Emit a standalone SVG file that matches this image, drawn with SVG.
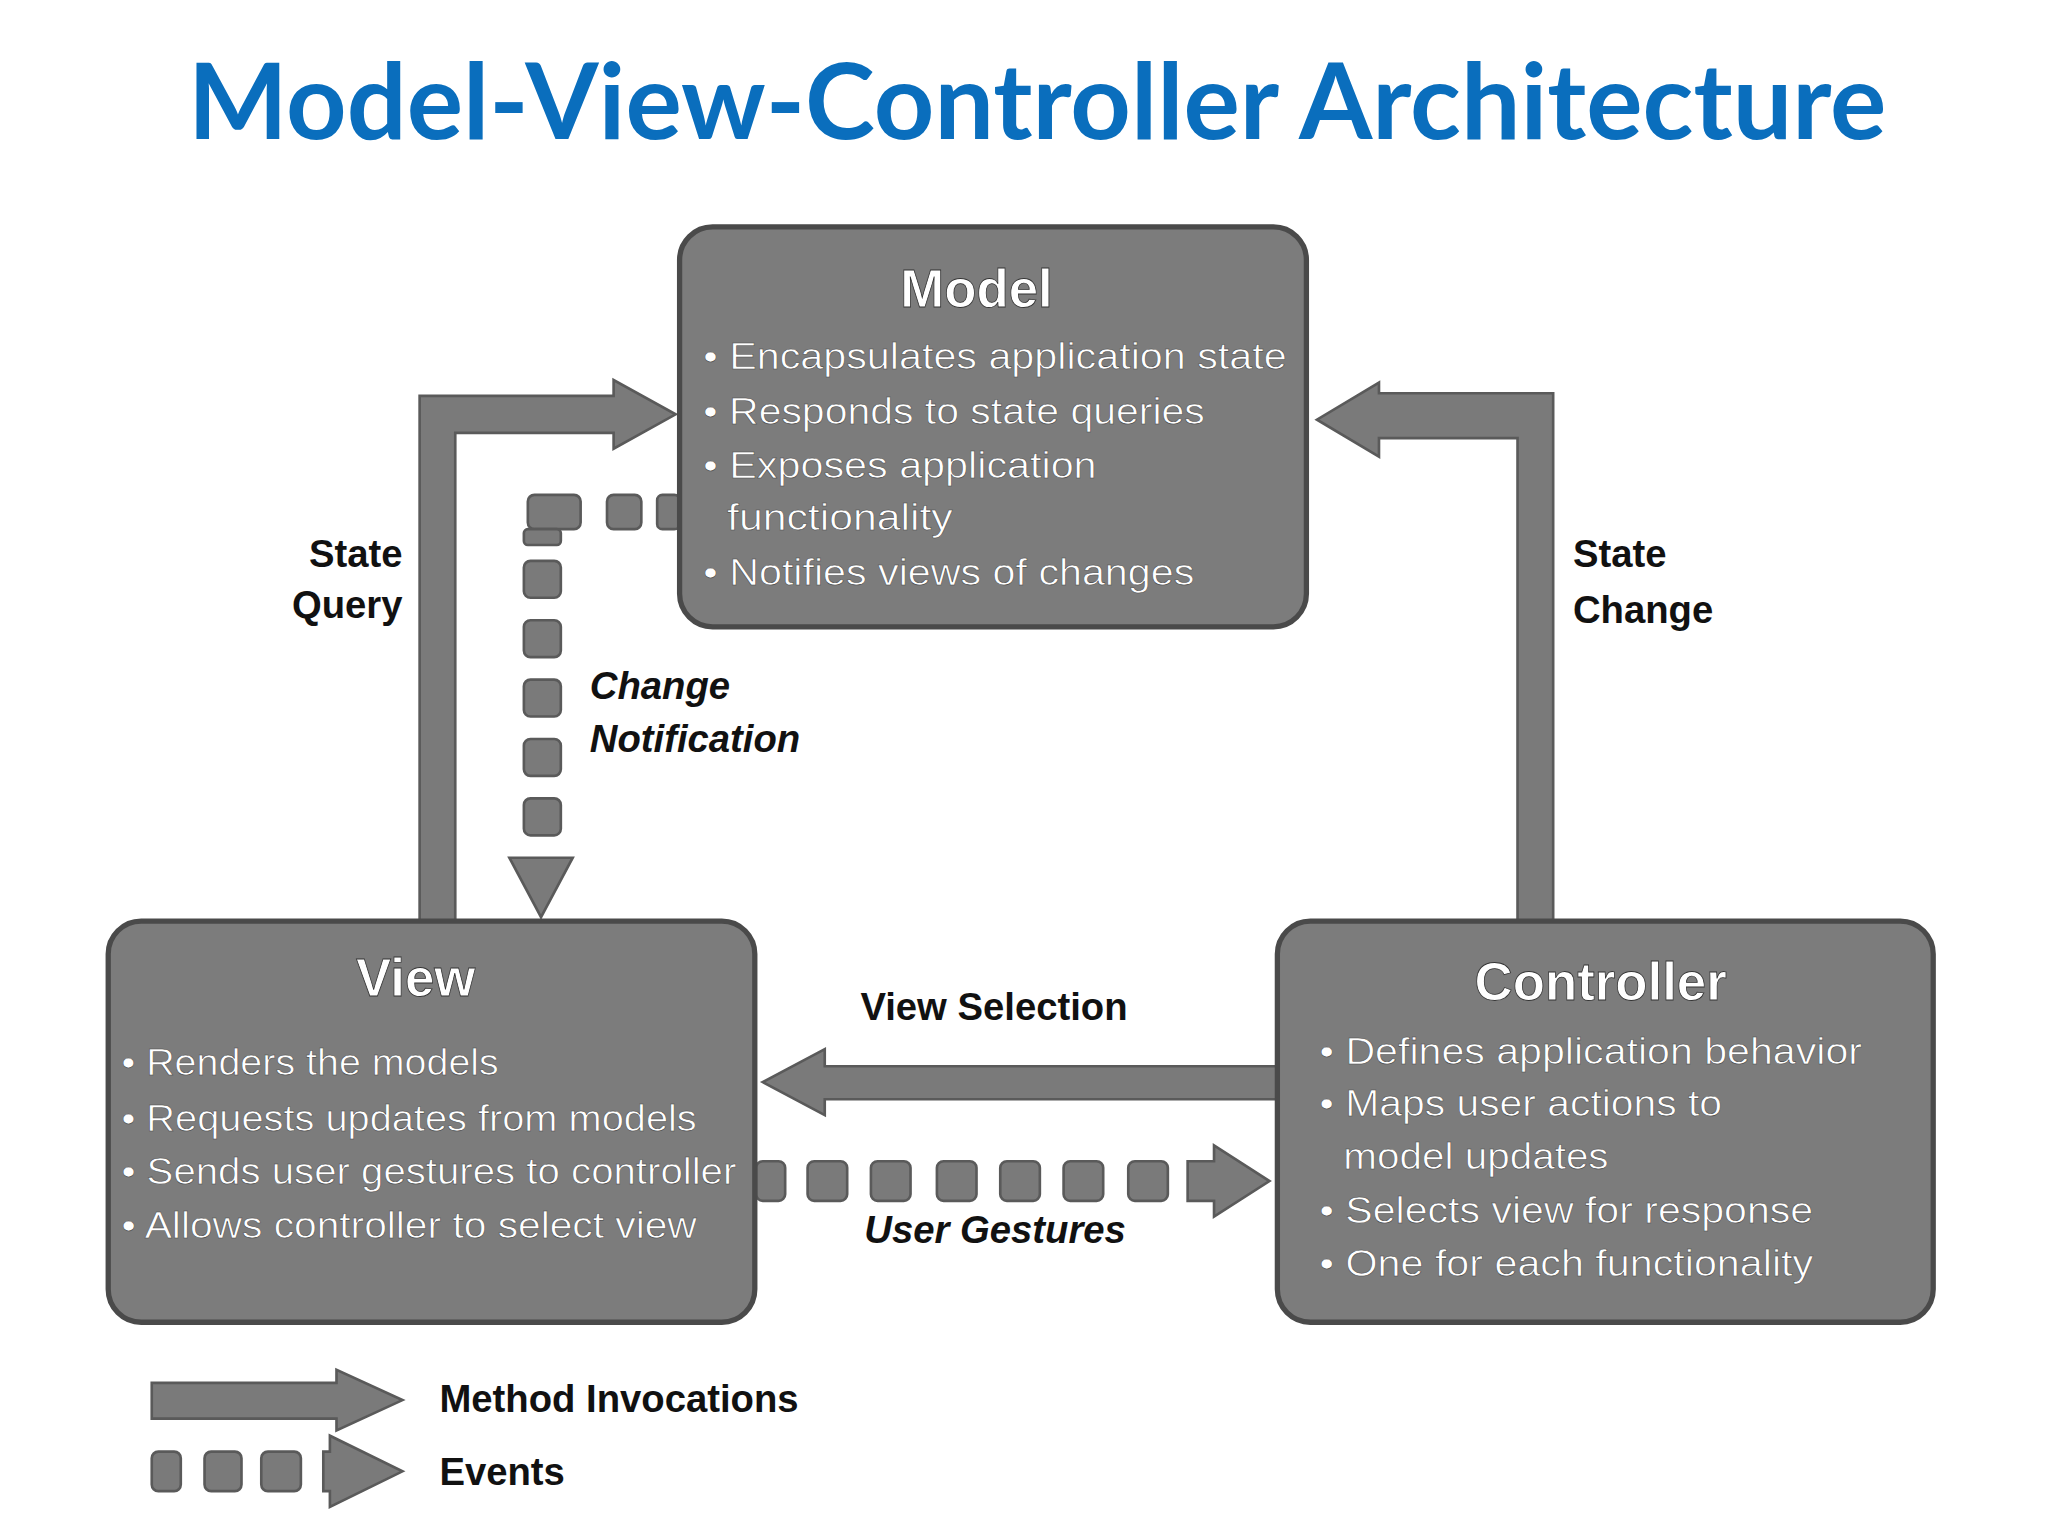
<svg xmlns="http://www.w3.org/2000/svg" width="2048" height="1536" viewBox="0 0 2048 1536">
<style>
.box{fill:#7c7c7c;stroke:#4a4a4a;stroke-width:4}
.ttl{font-family:"Liberation Sans",Arial,sans-serif;font-weight:bold;font-size:40px;fill:#fff;text-anchor:middle;stroke:#333;stroke-width:0.6}
.bl{font-family:"Liberation Sans",Arial,sans-serif;font-size:28px;fill:#fff;stroke:#444;stroke-width:0.4}
.lb{font-family:"Liberation Sans",Arial,sans-serif;font-weight:bold;font-size:29px;fill:#111}
.it{font-style:italic}
.ar{fill:#7a7a7a;stroke:#5a5a5a;stroke-width:2}
</style>
<rect width="2048" height="1536" fill="#fff"/>
<g transform="scale(1.3196)">
<text x="786" y="105" text-anchor="middle" font-family="Lato,'Open Sans',sans-serif" font-weight="bold" font-size="80" fill="#0a6ebd">Model-View-Controller Architecture</text>
<g id="connectors">
<path class="ar" d="M318,698 V300 H465 V288 L512,314 L465,340 V328 H345 V698 Z"/>
<path class="ar" d="M1177,698 V298 H1045 V290 L998,318 L1045,346 V332 H1150 V698 Z"/>
<path class="ar" d="M968,808 H625 V795 L578,820 L625,845 V833 H968 Z"/>
<g class="ar">
<rect x="400" y="375" width="40" height="26" rx="5"/><rect x="460" y="375" width="26" height="26" rx="5"/><rect x="498" y="375" width="17" height="26" rx="4"/>
<rect x="397" y="401" width="28" height="12" rx="3"/>
<rect x="397" y="425" width="28" height="28" rx="5"/><rect x="397" y="470" width="28" height="28" rx="5"/><rect x="397" y="515" width="28" height="28" rx="5"/><rect x="397" y="560" width="28" height="28" rx="5"/><rect x="397" y="605" width="28" height="28" rx="5"/>
<path d="M386,650 H434 L410,695 Z"/>
<rect x="573" y="880" width="22" height="30" rx="5"/><rect x="612" y="880" width="30" height="30" rx="5"/><rect x="660" y="880" width="30" height="30" rx="5"/><rect x="710" y="880" width="30" height="30" rx="5"/><rect x="758" y="880" width="30" height="30" rx="5"/><rect x="806" y="880" width="30" height="30" rx="5"/><rect x="855" y="880" width="30" height="30" rx="5"/>
<path d="M900,880 H920 V868 L962,895 L920,922 V910 H900 Z"/>
</g>
</g>
<g id="model">
<rect class="box" x="515" y="172" width="475" height="303" rx="25"/>
<text class="ttl" x="740" y="233">Model</text>
<text class="bl" x="533" y="280" textLength="442" lengthAdjust="spacingAndGlyphs">• Encapsulates application state</text>
<text class="bl" x="533" y="321" textLength="380" lengthAdjust="spacingAndGlyphs">• Responds to state queries</text>
<text class="bl" x="533" y="362" textLength="298" lengthAdjust="spacingAndGlyphs">• Exposes application</text>
<text class="bl" x="551" y="402" textLength="171" lengthAdjust="spacingAndGlyphs">functionality</text>
<text class="bl" x="533" y="443" textLength="372" lengthAdjust="spacingAndGlyphs">• Notifies views of changes</text>
</g>
<g id="view">
<rect class="box" x="82" y="698" width="490" height="304" rx="25"/>
<text class="ttl" x="315" y="755">View</text>
<text class="bl" x="92" y="815" textLength="286" lengthAdjust="spacingAndGlyphs">• Renders the models</text>
<text class="bl" x="92" y="857" textLength="436" lengthAdjust="spacingAndGlyphs">• Requests updates from models</text>
<text class="bl" x="92" y="897" textLength="466" lengthAdjust="spacingAndGlyphs">• Sends user gestures to controller</text>
<text class="bl" x="92" y="938" textLength="436" lengthAdjust="spacingAndGlyphs">• Allows controller to select view</text>
</g>
<g id="controller">
<rect class="box" x="968" y="698" width="497" height="304" rx="25"/>
<text class="ttl" x="1213" y="758">Controller</text>
<text class="bl" x="1000" y="806" textLength="411" lengthAdjust="spacingAndGlyphs">• Defines application behavior</text>
<text class="bl" x="1000" y="846" textLength="305" lengthAdjust="spacingAndGlyphs">• Maps user actions to</text>
<text class="bl" x="1018" y="886" textLength="201" lengthAdjust="spacingAndGlyphs">model updates</text>
<text class="bl" x="1000" y="927" textLength="374" lengthAdjust="spacingAndGlyphs">• Selects view for response</text>
<text class="bl" x="1000" y="967" textLength="374" lengthAdjust="spacingAndGlyphs">• One for each functionality</text>
</g>
<g id="labels">
<text class="lb" x="305" y="430" text-anchor="end">State</text>
<text class="lb" x="305" y="468" text-anchor="end">Query</text>
<text class="lb" x="1192" y="430">State</text>
<text class="lb" x="1192" y="472">Change</text>
<text class="lb it" x="447" y="530">Change</text>
<text class="lb it" x="447" y="570">Notification</text>
<text class="lb" x="652" y="773">View Selection</text>
<text class="lb it" x="655" y="942">User Gestures</text>
</g>
<g id="legend">
<path class="ar" d="M115,1048 H255 V1038 L305,1061 L255,1084 V1075 H115 Z"/>
<g class="ar"><rect x="115" y="1100" width="22" height="30" rx="5"/><rect x="155" y="1100" width="28" height="30" rx="5"/><rect x="198" y="1100" width="30" height="30" rx="5"/><path d="M245,1100 H250 V1088 L305,1115 L250,1142 V1130 H245 Z"/></g>
<text class="lb" x="333" y="1070" font-size="32">Method Invocations</text>
<text class="lb" x="333" y="1125" font-size="32">Events</text>
</g>
</g>
</svg>
